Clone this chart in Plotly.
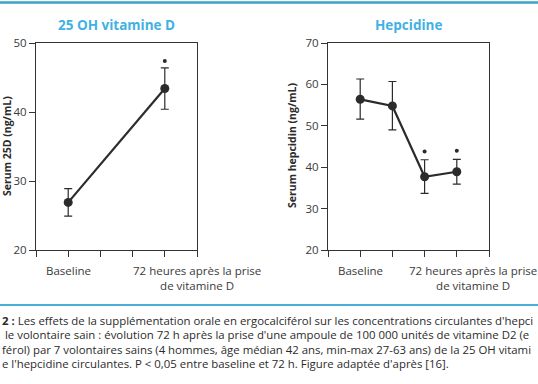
import plotly.graph_objects as go

# ---- data ----
vitd_x = [1, 4]
vitd_mean = [26.9, 43.4]
vitd_err = [2.0, 3.0]
vitd_sig_x = [4]
vitd_sig_y = [47.4]

hep_x = [1, 2, 3, 4]
hep_mean = [56.4, 54.8, 37.7, 38.9]
hep_err_plus = [4.9, 5.9, 4.1, 3.0]
hep_err_minus = [4.8, 5.8, 4.0, 3.0]
hep_sig_x = [3, 4]
hep_sig_y = [43.8, 44.0]

tick_positions = [0, 1, 2, 3, 4, 5]
vitd_yticks = [20, 30, 40, 50]
hep_yticks = [20, 30, 40, 50, 60, 70]

label_baseline = "Baseline"
label_72h = "72 heures après la prise<br>de vitamine D"
vitd_label_x = [1, 5]
hep_label_x = [1, 4.5]

title_vitd = "25 OH vitamine D"
title_hep = "Hepcidine"
ytitle_vitd = "Serum 25D (ng/mL)"
ytitle_hep = "Serum hepcidin (ng/mL)"

caption_lines = [
    "<b>2 :</b> Les effets de la supplémentation orale en ergocalciférol sur les concentrations circulantes d'hepci",
    " le volontaire sain : évolution 72 h après la prise d'une ampoule de 100 000 unités de vitamine D2 (e",
    "férol) par 7 volontaires sains (4 hommes, âge médian 42 ans, min-max 27-63 ans) de la 25 OH vitami",
    "e l'hepcidine circulantes. P < 0,05 entre baseline et 72 h. Figure adaptée d'après [16].",
]

FONT = "'Open Sans', Roboto, sans-serif"
DARK = "#2b2b2b"
TXT = "#3a3a3a"
BLUE = "#3fb1e3"

fig = go.Figure()

fig.add_trace(go.Scatter(
    x=vitd_x, y=vitd_mean, mode="lines+markers",
    line=dict(color=DARK, width=2.2),
    marker=dict(color=DARK, size=9),
    error_y=dict(type="data", array=vitd_err, color=DARK, thickness=1.2, width=4),
    xaxis="x", yaxis="y", showlegend=False, cliponaxis=False,
))
fig.add_trace(go.Scatter(
    x=vitd_sig_x, y=vitd_sig_y, mode="markers",
    marker=dict(color=DARK, size=4), xaxis="x", yaxis="y", showlegend=False,
))
fig.add_trace(go.Scatter(
    x=hep_x, y=hep_mean, mode="lines+markers",
    line=dict(color=DARK, width=2.2),
    marker=dict(color=DARK, size=9),
    error_y=dict(type="data", array=hep_err_plus, arrayminus=hep_err_minus,
                 color=DARK, thickness=1.2, width=4),
    xaxis="x2", yaxis="y2", showlegend=False, cliponaxis=False,
))
fig.add_trace(go.Scatter(
    x=hep_sig_x, y=hep_sig_y, mode="markers",
    marker=dict(color=DARK, size=4), xaxis="x2", yaxis="y2", showlegend=False,
))

W, H = 538, 384
def px_x(p):
    return p / W
def px_y(p):
    return 1 - p / H

y_dom = [px_y(250), px_y(43)]

common_x = dict(range=[0, 5], tickvals=tick_positions, ticktext=[""] * 6,
                ticks="outside", ticklen=6, tickwidth=1.2, tickcolor="#333",
                showline=True, linecolor="#333", linewidth=1.3, mirror=True,
                showgrid=False, zeroline=False, automargin=False, fixedrange=True)
common_y = dict(ticks="outside", ticklen=6, tickwidth=1.2, tickcolor="#333",
                showline=True, linecolor="#333", linewidth=1.3, mirror=True,
                showgrid=False, zeroline=False, automargin=False,
                tickfont=dict(family=FONT, size=11.5, color=TXT), fixedrange=True)

fig.update_layout(
    width=W, height=H,
    margin=dict(l=0, r=0, t=0, b=0),
    paper_bgcolor="white", plot_bgcolor="white",
    font=dict(family=FONT, color=TXT),
    hovermode=False,
    xaxis=dict(domain=[px_x(36), px_x(197)], anchor="y", **common_x),
    yaxis=dict(domain=y_dom, range=[20, 50], tickvals=vitd_yticks, anchor="x", **common_y),
    xaxis2=dict(domain=[px_x(328), px_x(489)], anchor="y2", **common_x),
    yaxis2=dict(domain=y_dom, range=[20, 70], tickvals=hep_yticks, anchor="x2", **common_y),
)

ann = []
# titles
ann.append(dict(text="<b>" + title_vitd + "</b>", xref="x domain", yref="paper", x=0.5,
                y=px_y(25), xanchor="center", yanchor="middle", showarrow=False,
                font=dict(family=FONT, size=13.5, color=BLUE)))
ann.append(dict(text="<b>" + title_hep + "</b>", xref="x2 domain", yref="paper", x=0.5,
                y=px_y(25), xanchor="center", yanchor="middle", showarrow=False,
                font=dict(family=FONT, size=13.5, color=BLUE)))
# y titles
ann.append(dict(text="<b>" + ytitle_vitd + "</b>", xref="paper", yref="paper", x=px_x(7),
                y=px_y(146), xanchor="center", yanchor="middle", textangle=-90,
                showarrow=False, font=dict(family=FONT, size=10.5, color=DARK)))
ann.append(dict(text="<b>" + ytitle_hep + "</b>", xref="paper", yref="paper", x=px_x(292),
                y=px_y(146), xanchor="center", yanchor="middle", textangle=-90,
                showarrow=False, font=dict(family=FONT, size=10.5, color=DARK)))
# x category labels
for xa, xs in (("x", vitd_label_x), ("x2", hep_label_x)):
    ann.append(dict(text=label_baseline, xref=xa, yref="paper", x=xs[0], y=px_y(261),
                    xanchor="center", yanchor="top", showarrow=False,
                    font=dict(family=FONT, size=11.5, color=TXT)))
    ann.append(dict(text=label_72h, xref=xa, yref="paper", x=xs[1], y=px_y(261),
                    xanchor="center", yanchor="top", showarrow=False, align="center",
                    font=dict(family=FONT, size=11.5, color=TXT)))
# caption
for i, line in enumerate(caption_lines):
    ann.append(dict(text=line, xref="paper", yref="paper", x=0, y=px_y(320 + 14.6 * i),
                    xanchor="left", yanchor="middle", showarrow=False, align="left",
                    font=dict(family=FONT, size=11.4, color=DARK)))
fig.update_layout(annotations=ann)

fig.update_layout(shapes=[
    dict(type="line", xref="paper", yref="paper", x0=0, x1=1, y0=px_y(2.5), y1=px_y(2.5),
         line=dict(color="#3aa3c6", width=2.5)),
    dict(type="line", xref="paper", yref="paper", x0=0, x1=1, y0=px_y(305), y1=px_y(305),
         line=dict(color="#4ab0d8", width=2)),
])

fig.write_html("out.html", config={"displayModeBar": False},
               post_script="document.body.style.margin='0';")
